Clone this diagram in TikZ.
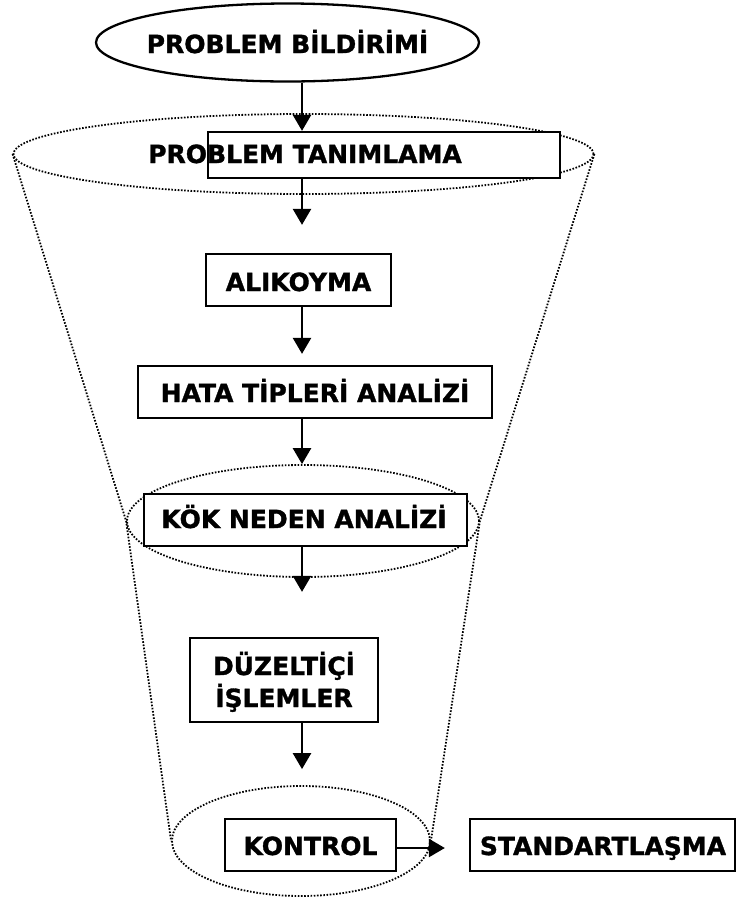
\documentclass[tikz,border=0pt]{standalone}
\usepackage{fontspec}
\setmainfont{DejaVu Sans}[BoldFeatures={FakeBold=1.3}]
\usetikzlibrary{arrows.meta,shapes.geometric}
\begin{document}
\begin{tikzpicture}[x=1pt,y=-1pt,
  lbl/.style={font=\fontsize{25}{34}\selectfont\bfseries, inner sep=0pt, anchor=base},
  stepbox/.style={draw, line width=2.3pt, fill=white, inner sep=0pt},
  dotline/.style={line width=1.8pt, dash pattern=on 1.6pt off 1.6pt},
  dotell/.style={ellipse, draw, dotline, inner sep=0pt},
  arr/.style={line width=2.5pt, -{Triangle[length=16pt,width=18pt]}},
]
\useasboundingbox (0,0) rectangle (738,898);

% dotted funnel: three rings joined by their outer sides
\node[dotell, minimum width=580pt, minimum height=80pt] (topell) at (303.5,154) {};
\node[dotell, minimum width=352pt, minimum height=112pt] (kokell) at (303,521) {};
\node[dotell, minimum width=258pt, minimum height=110pt] (kontell) at (301,841) {};
\draw[dotline] (topell.west) -- (kokell.west) -- (kontell.west);
\draw[dotline] (topell.east) -- (kokell.east) -- (kontell.east);

% start ellipse
\node[draw, ellipse, line width=2.3pt, inner sep=0pt,
      minimum width=383pt, minimum height=78pt] (bild) at (287.5,42.5) {};

% process boxes
\node[stepbox, minimum width=352pt, minimum height=46pt] (tan)   at (384,155)   {};
\node[stepbox, minimum width=185pt, minimum height=52pt] (alik)  at (298.5,280) {};
\node[stepbox, minimum width=354pt, minimum height=52pt] (hata)  at (315,392)   {};
\node[stepbox, minimum width=323pt, minimum height=52pt] (kok)   at (305.5,520) {};
\node[stepbox, minimum width=188pt, minimum height=84pt] (duz)   at (284,680)   {};
\node[stepbox, minimum width=171pt, minimum height=52pt] (kont)  at (310.5,845) {};
\node[stepbox, minimum width=265pt, minimum height=52pt] (stand) at (602.5,845) {};

% labels
\node[lbl] (tbild)  at (287.5,53) {PROBLEM BİLDİRİMİ};
\node[lbl] (ttan)   at (305,163)  {PROBLEM TANIMLAMA};
\node[lbl] (talik)  at (298.5,291) {ALIKOYMA};
\node[lbl] (thata)  at (315,402)  {HATA TİPLERİ ANALİZİ};
\node[lbl] (tkok)   at (304,528)  {KÖK NEDEN ANALİZİ};
\node[lbl] (tduz1)  at (284,675)  {DÜZELTİÇİ};
\node[lbl] (tduz2)  at (284,707)  {İŞLEMLER};
\node[lbl] (tkont)  at (310.5,855) {KONTROL};
\node[lbl] (tstand) at (603,855)  {STANDARTLAŞMA};

% flow arrows along the common axis
\coordinate (ax) at (302,0);
\draw[arr] (bild.south -| ax) -- (tan.north -| ax);
\draw[arr, shorten >=28pt] (tan.south -| ax) -- (alik.north -| ax);
\draw[arr, shorten >=11pt] (alik.south -| ax) -- (hata.north -| ax);
\draw[arr] (hata.south -| ax) -- (kokell.north -| ax);
\draw[arr, shorten >=45pt] (kok.south -| ax) -- (duz.north -| ax);
\draw[arr, shorten >=16pt] (duz.south -| ax) -- (kontell.north -| ax);
\draw[arr, shorten >=24pt] ([yshift=-3pt]kont.east) -- ([yshift=-3pt]stand.west);
\end{tikzpicture}
\end{document}
